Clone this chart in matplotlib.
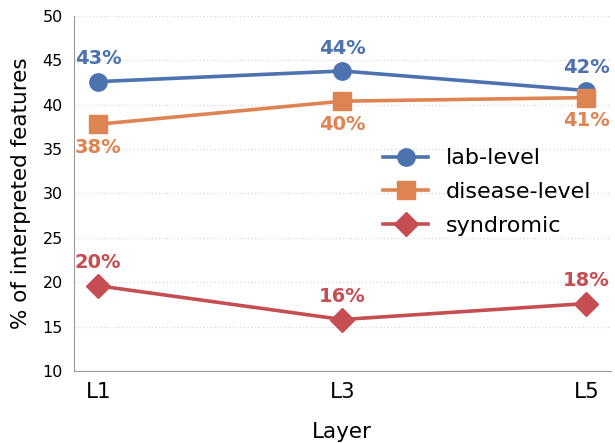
import matplotlib.pyplot as plt

layers = ["L1", "L3", "L5"]
lab_level = [42.6, 43.8, 41.6]
disease_level = [37.8, 40.4, 40.8]
syndromic = [19.6, 15.8, 17.6]

series = [
    ("lab-level", lab_level, "#4C72B0", "o", "above"),
    ("disease-level", disease_level, "#DD8452", "s", "below"),
    ("syndromic", syndromic, "#C44E52", "D", "above"),
]

fig = plt.figure(figsize=(6.15, 4.43), dpi=100)
ax = fig.add_axes([0.120, 0.1625, 0.873, 0.8015])

x = list(range(len(layers)))
for name, vals, color, marker, where in series:
    ax.plot(x, vals, color=color, marker=marker, markersize=12.5, linewidth=2.6, label=name)
    for xi, v in zip(x, vals):
        dy = 16.5 if where == "above" else -16.5
        ax.annotate(f"{round(v):.0f}%", (xi, v), xytext=(0, dy), textcoords="offset points",
                    ha="center", va="center", color=color, fontsize=14, fontweight="bold")

ax.set_xlim(-0.1, 2.1)
ax.set_ylim(10, 50)
ax.set_xticks(x)
ax.set_xticklabels(layers, fontsize=15.5)
ax.tick_params(axis="y", labelsize=11.5, length=0, pad=8)
ax.tick_params(axis="x", length=0, pad=8)
ax.set_xlabel("Layer", fontsize=15.5, labelpad=14)
ax.set_ylabel("% of interpreted features", fontsize=15.5, labelpad=8)
ax.grid(axis="y", linestyle=":", color="#dddddd", linewidth=1)
ax.set_axisbelow(True)
for s in ["top", "right"]:
    ax.spines[s].set_visible(False)
for s in ["left", "bottom"]:
    ax.spines[s].set_color("#999999")

ax.legend(loc="center", bbox_to_anchor=(0.77, 0.504), frameon=False, fontsize=16,
          handlelength=2.0, labelspacing=0.62)

fig.savefig("out.png", dpi=100)
